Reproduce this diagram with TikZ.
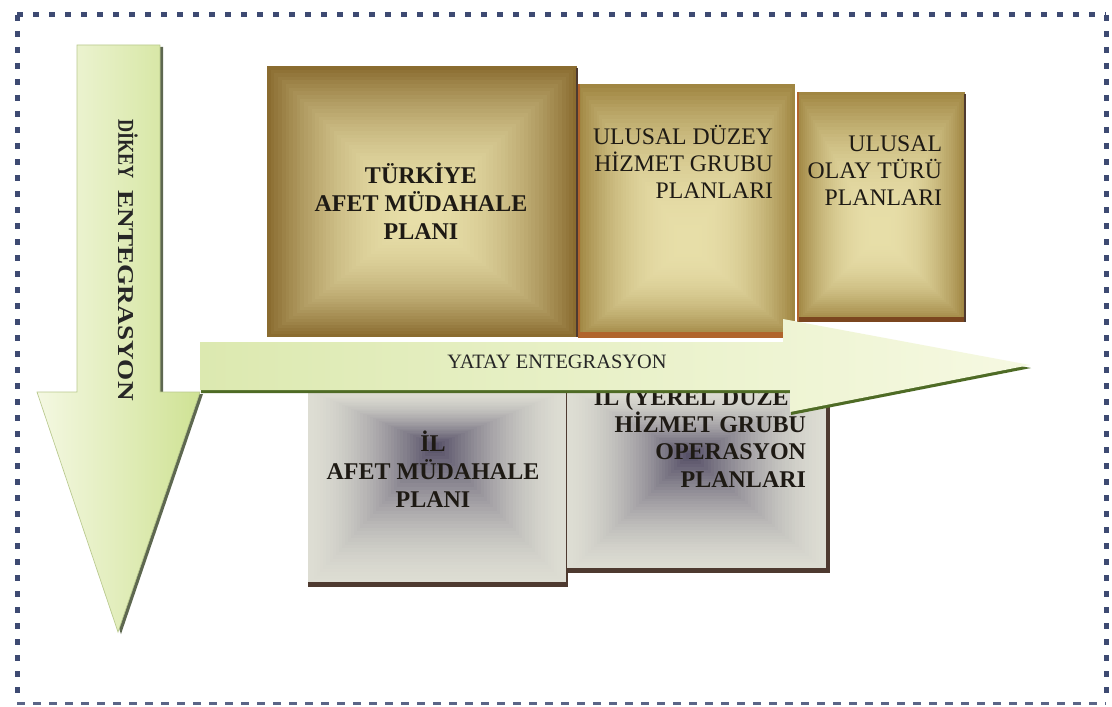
\documentclass[tikz,border=0pt]{standalone}
\usepackage{fontspec}
\setmainfont{Liberation Serif}
\usetikzlibrary{calc}
\definecolor{goldout}{HTML}{8A6C30}
\definecolor{goldoutb}{HTML}{A08642}
\definecolor{goldin}{HTML}{E7DEA8}
\definecolor{grayout}{HTML}{DDDDD3}
\definecolor{grayin}{HTML}{575168}
\definecolor{vA}{HTML}{F4F8E2}
\definecolor{vB}{HTML}{CFE294}
\definecolor{hA}{HTML}{DCE9B0}
\definecolor{hB}{HTML}{EEF4D2}
\definecolor{hC}{HTML}{F6F9E2}
\definecolor{arrowshadow}{HTML}{4E6B25}
\definecolor{vshadow}{HTML}{5E6850}
\definecolor{arrowedge}{HTML}{B9C98E}
\definecolor{dotcol}{HTML}{3E4A72}
\definecolor{edgebrown}{HTML}{B0642C}
\definecolor{edgedark}{HTML}{4E3A30}
\definecolor{txtdark}{HTML}{1E1A14}
\newcommand{\rectgrad}[9]{%
  \foreach \i in {0,...,40}{%
    \pgfmathsetmacro{\t}{\i/40}%
    \pgfmathsetmacro{\p}{#9}%
    \fill[color={#8!\p!#7}] ({#1+(#5-#1)*\t*0.97},{#2+(#6-#2)*\t*0.97}) rectangle ({#3-(#3-#5)*\t*0.97},{#4-(#4-#6)*\t*0.97});
  }}
\begin{document}
\begin{tikzpicture}[x=0.75pt,y=-0.75pt,
  every node/.style={inner sep=0pt, outer sep=0pt},
  dotline/.style={draw=dotcol, line width=3.75pt, dash pattern=on 4.5pt off 7.5pt},
  regtext/.style={text=txtdark, font=\fontsize{17.8}{20.3}\selectfont, align=right, anchor=east},
  boldtext/.style={text=txtdark, font=\bfseries\fontsize{18}{20.8}\selectfont, align=center},
  boldright/.style={text=txtdark, font=\bfseries\fontsize{18}{20.5}\selectfont, align=right, anchor=east},
  arrowtext/.style={text=black!85}]
\useasboundingbox (0,0) rectangle (1112,706);
\fill[white] (0,0) rectangle (1112,706);
% border
\draw[dotline] (17,15) -- (1106,15);
\draw[dotline] (17,15) -- (17,703);
\draw[dotline] (1106,15) -- (1106,703);
\draw[draw=dotcol!85, line width=2.25pt, dash pattern=on 6pt off 6pt] (17,703) -- (1106,703);
% upper boxes
\rectgrad{267}{66}{577}{337}{420}{215}{goldout}{goldin}{100*(1-(1-\t)^2)}
\draw[edgedark, line width=1.5pt] (577,68) -- (577,337);
\rectgrad{578}{84}{795}{337}{688}{245}{goldoutb}{goldin}{100*(1-(1-\t)^2.3)}
\fill[edgebrown] (578,332) rectangle (795,338);
\draw[edgebrown, line width=1pt] (579,84) -- (579,337);
\rectgrad{797}{92}{965}{321}{880}{235}{goldoutb}{goldin}{100*(1-(1-\t)^2.3)}
\fill[edgebrown!70!black] (797,317) rectangle (965,322);
\draw[edgedark, line width=1.5pt] (965,94) -- (965,322);
\draw[edgebrown, line width=1pt] (798,92) -- (798,321);
% lower boxes
\rectgrad{308}{390}{567}{586}{435}{445}{grayout}{grayin}{100*\t^1.6}
\fill[edgedark] (308,582) rectangle (567,587);
\draw[edgedark, line width=1pt] (567,390) -- (567,587);
\rectgrad{567}{388}{829}{573}{690}{455}{grayout}{grayin}{100*\t^1.6}
\fill[edgedark] (567,568) rectangle (829,573);
\fill[edgedark] (826,395) rectangle (830,573);
% texts
\node[boldtext] (t1) at (421,201) {TÜRKİYE\\AFET MÜDAHALE\\PLANI};
\node[regtext] (t2) at (773,162) {ULUSAL DÜZEY\\HİZMET GRUBU\\PLANLARI};
\node[regtext] (t3) at (942,171) {ULUSAL\\OLAY TÜRÜ\\PLANLARI};
\node[boldtext] (t4) at (433,469) {İL\\AFET MÜDAHALE\\PLANI};
\node[boldright] (t5) at (806,436) {İL (YEREL DÜZEY\\HİZMET GRUBU\\OPERASYON\\PLANLARI};
% vertical arrow
\fill[vshadow, shift={(3,2)}] (77,45) -- (160,45) -- (160,392) -- (200,392) -- (118,632) -- (37,392) -- (77,392) -- cycle;
\path[left color=vA, right color=vB, draw=arrowedge, line width=0.5pt] (77,45) -- (160,45) -- (160,392) -- (200,392) -- (118,632) -- (37,392) -- (77,392) -- cycle;
\node[arrowtext, rotate=-90, font=\bfseries\fontsize{17}{18}\selectfont] (vt) at (128,260) {\scalebox{0.8}[1]{DİKEY}\hspace{9pt}\scalebox{1.2}[1]{ENTEGRASYON}};
% horizontal arrow
\fill[arrowshadow, shift={(1,3)}] (200,342) -- (783,342) -- (783,319) -- (1030,365) -- (790,412) -- (790,390) -- (200,390) -- cycle;
\path[left color=hA, middle color=hB, right color=hC] (200,342) -- (783,342) -- (783,319) -- (1030,365) -- (790,412) -- (790,390) -- (200,390) -- cycle;
\node[arrowtext, font=\fontsize{15.3}{17}\selectfont] (ht) at (557,362) {YATAY ENTEGRASYON};
\end{tikzpicture}
\end{document}
